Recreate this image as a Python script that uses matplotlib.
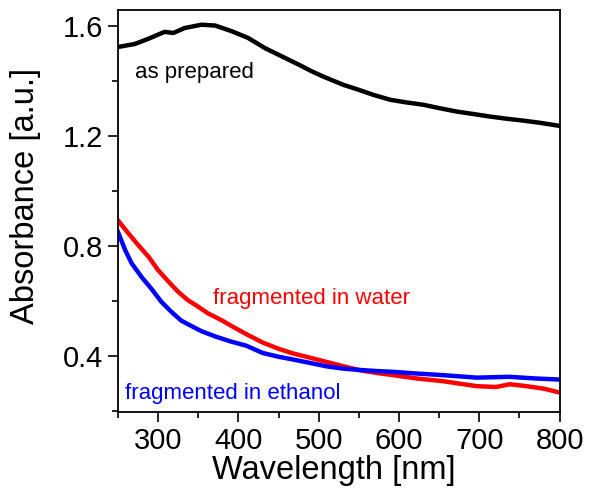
import matplotlib.pyplot as plt
from matplotlib.ticker import MultipleLocator

plt.rcParams['font.family'] = ['Liberation Sans', 'DejaVu Sans']

# as prepared (black)
wl_prep = [250, 271, 288, 308, 319, 333, 354, 371, 392, 412, 433, 454, 475, 491,
           506, 531, 547, 568, 589, 610, 630, 651, 672, 693, 713, 734, 755, 776, 800]
abs_prep = [1.523, 1.534, 1.553, 1.578, 1.574, 1.592, 1.604, 1.601, 1.580, 1.556,
            1.519, 1.489, 1.459, 1.435, 1.415, 1.385, 1.370, 1.349, 1.331, 1.321,
            1.313, 1.300, 1.288, 1.279, 1.270, 1.262, 1.255, 1.247, 1.236]

# fragmented in water (red)
wl_water = [250, 263, 275, 288, 300, 313, 325, 337, 350, 362, 379, 395, 410, 430,
            450, 468, 490, 510, 530, 551, 572, 593, 622, 655, 697, 721, 738, 759, 780, 800]
abs_water = [0.892, 0.845, 0.803, 0.760, 0.711, 0.669, 0.632, 0.602, 0.578, 0.554,
             0.529, 0.502, 0.478, 0.448, 0.425, 0.408, 0.392, 0.377, 0.362, 0.347,
             0.337, 0.329, 0.317, 0.307, 0.289, 0.286, 0.296, 0.289, 0.280, 0.266]

# fragmented in ethanol (blue)
wl_eth = [250, 259, 267, 280, 292, 304, 317, 329, 342, 354, 371, 390, 410, 430,
          450, 468, 490, 510, 530, 551, 572, 593, 622, 655, 697, 738, 770, 800]
abs_eth = [0.850, 0.784, 0.736, 0.684, 0.642, 0.596, 0.558, 0.527, 0.507, 0.489,
           0.470, 0.452, 0.436, 0.410, 0.396, 0.386, 0.373, 0.361, 0.353, 0.348,
           0.344, 0.341, 0.335, 0.329, 0.320, 0.323, 0.317, 0.313]

fig = plt.figure(figsize=(5.89, 4.94), dpi=100)
ax = fig.add_axes([0.2003, 0.166, 0.7497, 0.814])

ax.plot(wl_prep, abs_prep, color='black', lw=3.2)
ax.plot(wl_water, abs_water, color='#ff0000', lw=3.2)
ax.plot(wl_eth, abs_eth, color='#0000ff', lw=3.2)

ax.text(271, 1.43, 'as prepared', color='black', fontsize=16, va='center')
ax.text(368, 0.607, 'fragmented in water', color='#ff0000', fontsize=16, va='center')
ax.text(259, 0.262, 'fragmented in ethanol', color='#0000ff', fontsize=16, va='center')

ax.set_xlim(250, 800)
ax.set_ylim(0.195, 1.658)
ax.xaxis.set_minor_locator(MultipleLocator(50))
ax.yaxis.set_minor_locator(MultipleLocator(0.2))
ax.set_xticks([300, 400, 500, 600, 700, 800])
ax.set_yticks([0.4, 0.8, 1.2, 1.6])
ax.set_yticklabels(['0.4', '0.8', '1.2', '1.6'])

ax.tick_params(which='major', direction='out', length=7, width=1.2, labelsize=21)
ax.tick_params(which='minor', direction='out', length=4, width=1.2)
for s in ax.spines.values():
    s.set_linewidth(1.3)

ax.set_xlabel('Wavelength [nm]', fontsize=23.5)
ax.set_ylabel('Absorbance [a.u.]', fontsize=23.5)
ax.xaxis.set_label_coords(0.489, -0.108)
ax.yaxis.set_label_coords(-0.175, 0.537)

fig.savefig('out.png', dpi=100)
